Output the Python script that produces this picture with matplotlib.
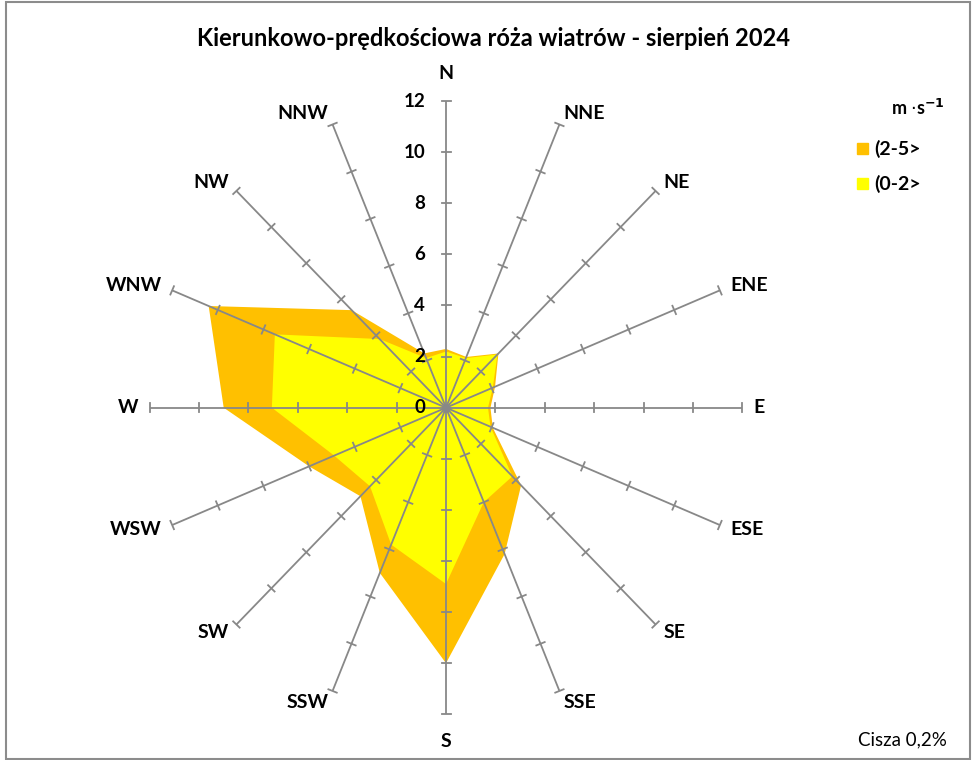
import numpy as np
import matplotlib
matplotlib.use("Agg")
import matplotlib.pyplot as plt
from matplotlib.patches import Rectangle

plt.rcParams['font.family'] = ['Lato', 'DejaVu Sans']

# wind directions (clockwise from north)
directions = ["N", "NNE", "NE", "ENE", "E", "ESE", "SE", "SSE",
              "S", "SSW", "SW", "WSW", "W", "WNW", "NW", "NNW"]
# frequency [%] for speed class (0-2> m/s
freq_0_2 = [2.2, 2.1, 2.95, 2.05, 1.7, 1.95, 3.8, 4.0,
            6.9, 5.8, 4.35, 4.9, 7.05, 7.5, 3.8, 2.1]
# frequency [%] for speed class (2-5> m/s (stacked on top)
freq_2_5 = [0.1, 0.05, 0.05, 0.1, 0.1, 0.1, 0.5, 2.2,
            3.1, 1.2, 0.55, 1.1, 1.95, 2.9, 1.6, 0.2]
class_labels = ["(2-5>", "(0-2>"]
radial_ticks = [0, 2, 4, 6, 8, 10, 12]
calm_text = "Cisza 0,2%"
title = "Kierunkowo-prędkościowa róża wiatrów - sierpień 2024"

W, H = 973, 760
cx, cy = 446, 407.7          # centre of the rose in pixels
sx, sy = 24.7, 25.55         # pixels per unit (slightly non-square like the source)
rmax = radial_ticks[-1]

fig = plt.figure(figsize=(W / 100, H / 100), dpi=100)
ax = fig.add_axes([0, 0, 1, 1])
ax.set_xlim(-cx / sx, (W - cx) / sx)
ax.set_ylim((cy - H) / sy, cy / sy)
ax.axis('off')

theta = np.deg2rad(np.arange(len(directions)) * 360 / len(directions))
s, c = np.sin(theta), np.cos(theta)

inner = np.array(freq_0_2)
outer = inner + np.array(freq_2_5)

ax.fill(outer * s, outer * c, color='#FFC000', lw=0, zorder=1)
ax.fill(inner * s, inner * c, color='#FFFF00', lw=0, zorder=2)

grey = '#888888'
tick_half = 4.5  # px
for i in range(len(directions)):
    ax.plot([0, rmax * s[i]], [0, rmax * c[i]], color=grey, lw=1.3, zorder=3,
            solid_capstyle='butt')
    # perpendicular tick marks, in pixel space
    px_dir = np.array([s[i] * sx, c[i] * sy])
    px_dir /= np.hypot(*px_dir)
    perp = np.array([-px_dir[1], px_dir[0]])
    for r in radial_ticks[1:]:
        x0, y0 = r * s[i], r * c[i]
        ax.plot([x0 - perp[0] * tick_half / sx, x0 + perp[0] * tick_half / sx],
                [y0 - perp[1] * tick_half / sy, y0 + perp[1] * tick_half / sy],
                color=grey, lw=1.3, zorder=3)
    ex, ey = rmax * s[i], rmax * c[i]
    if abs(s[i]) < 0.01:
        off = (0, 28 if c[i] > 0 else -27)
        ha = 'center'
    else:
        off = (11 * s[i], 12 * c[i])
        ha = 'left' if s[i] > 0 else 'right'
    ax.annotate(directions[i], (ex, ey), xytext=off, textcoords='offset pixels',
                ha=ha, va='center', fontsize=14, fontweight='bold', zorder=5)

ax.plot(0, 0, 'o', color=grey, ms=5, zorder=4)

# radial value labels on the north axis
for r in radial_ticks:
    ax.annotate(str(r), (0, r), xytext=(-21, 0), textcoords='offset pixels',
                ha='right', va='center', fontsize=13.5, fontweight='bold', zorder=5)

fig.text(493 / W, 1 - 38 / H, title, ha='center', va='center',
         fontsize=17, fontweight='bold')

# legend
fig.text(918 / W, 1 - 108 / H, r"m $\cdot$s$^{\mathbf{-1}}$", ha='center', va='center',
         fontsize=13, fontweight='bold')
leg_colors = ['#FFC000', '#FFFF00']
for k, (lab, col) in enumerate(zip(class_labels, leg_colors)):
    yc = 148 + 35 * k
    fig.patches.append(Rectangle((857 / W, 1 - (yc + 5.5) / H), 11 / W, 11 / H,
                                 transform=fig.transFigure, color=col, figure=fig))
    fig.text(874 / W, 1 - (yc + 1) / H, lab, ha='left', va='center',
             fontsize=14, fontweight='bold')

fig.text(947 / W, 1 - 740 / H, calm_text, ha='right', va='center', fontsize=13.5)

# chart border
fig.patches.append(Rectangle((5.5 / W, 1 / H), 964 / W, 757 / H, transform=fig.transFigure,
                             fill=False, ec='#8c8c8c', lw=1.5, figure=fig))

fig.savefig('out.png', dpi=100)
